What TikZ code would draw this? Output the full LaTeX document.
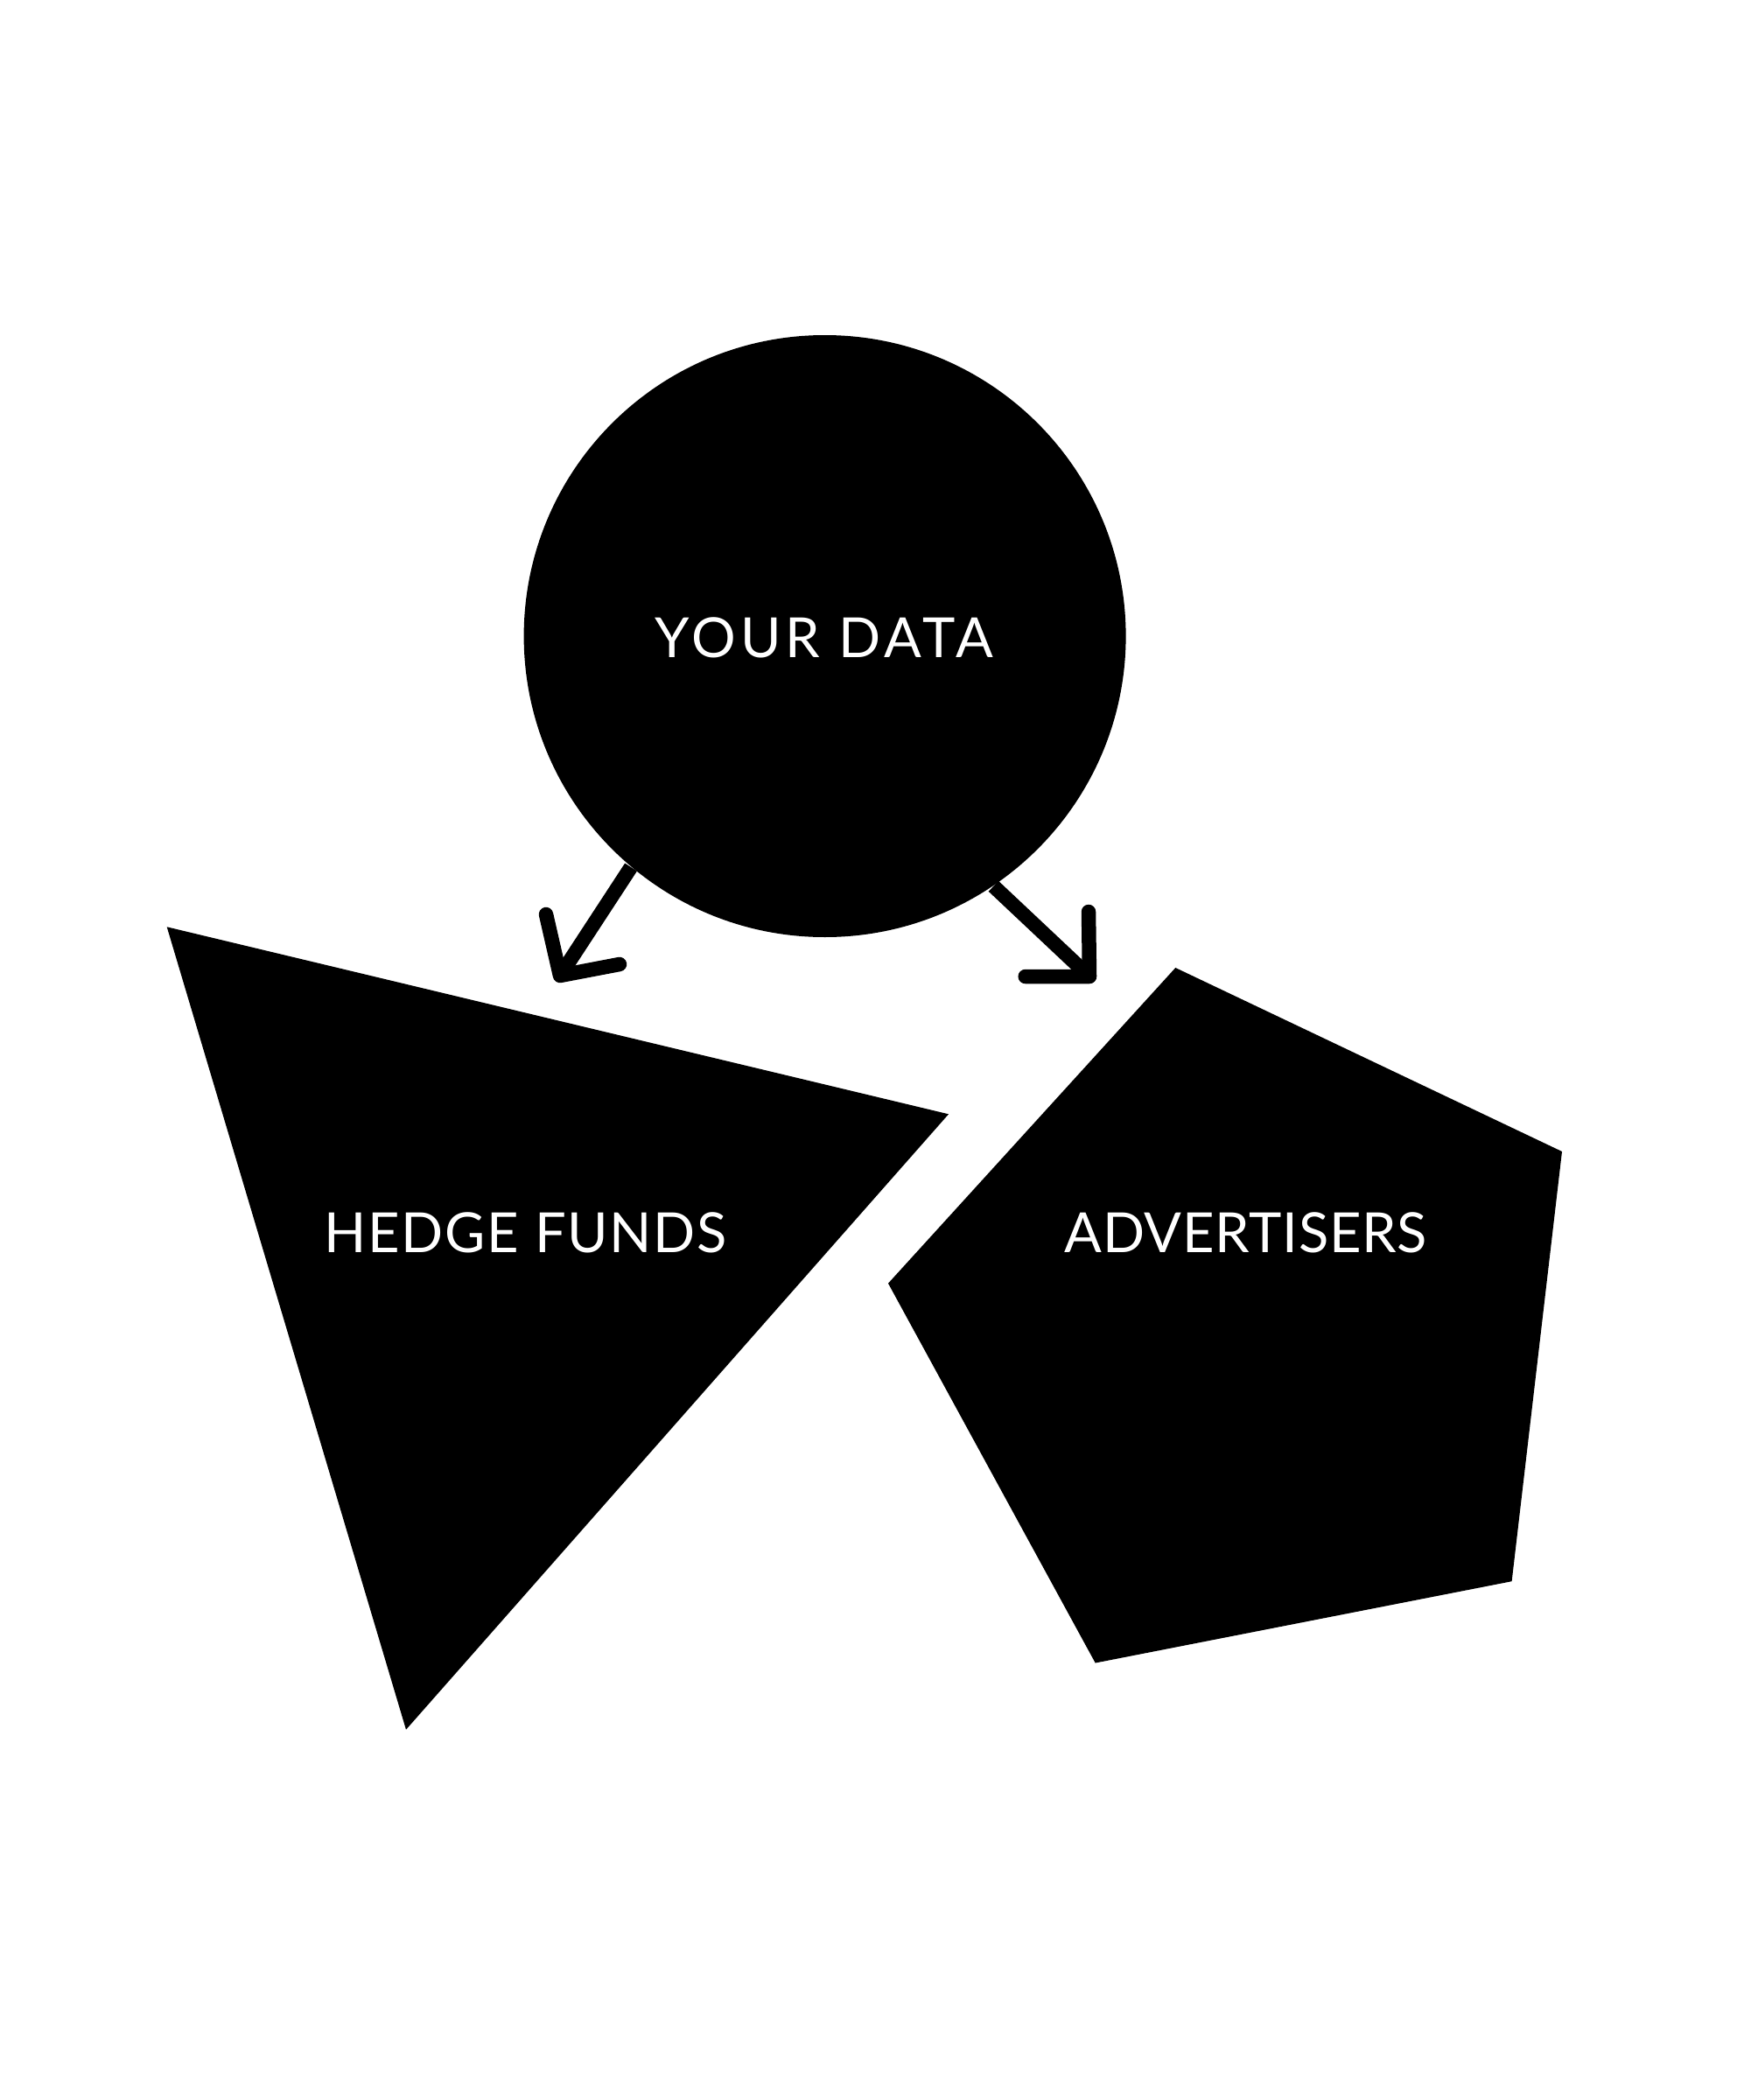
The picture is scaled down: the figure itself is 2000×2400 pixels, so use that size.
\documentclass[tikz,border=0pt]{standalone}
\usepackage{fontspec}
\setmainfont{Lato}
\newfontfamily\labelwide{Lato}[LetterSpace=8]
\newfontfamily\labelmid{Lato}[LetterSpace=2.6]
\newfontfamily\labelnarrow{Lato}[LetterSpace=1.2]
\begin{document}
\begin{tikzpicture}[x=0.1mm,y=-0.1mm,
  shapefill/.style={fill=black},
  label/.style={text=white,font=\fontsize{18}{18}\selectfont,inner sep=0pt},
  flow/.style={line width=1.65mm,line cap=round,line join=round}]
\useasboundingbox (0,0) rectangle (2000,2400);

% source circle
\node[circle,fill=black,minimum size=68.8mm,inner sep=0pt] (data) at (942.6,727) {};
\node[label] (datalabel) at (941.8,728.4) {\labelwide YOUR DATA};

% destination shapes
\fill[shapefill] (190.7,1059.3) -- (1084,1273.3) -- (464,1976.7) -- cycle;
\fill[shapefill] (1343.3,1106) -- (1785,1316) -- (1727.6,1807.2) -- (1251.7,1900.5) -- (1015,1466.7) -- cycle;
\node[label] (hedge) at (600.6,1409) {\labelmid HEDGE FUNDS};
\node[label] (adv) at (1423.8,1409) {\labelnarrow ADVERTISERS};

% arrow ends
\coordinate (tipL) at (640,1115);
\coordinate (armLa) at (624,1045);
\coordinate (armLb) at (708,1102);
\coordinate (tipR) at (1245,1116);
\coordinate (armRa) at (1244,1042);
\coordinate (armRb) at (1171.7,1116);

% connectors
\draw[flow,line cap=butt] (data.230.2) -- (tipL);
\draw[flow] (armLa) -- (tipL) -- (armLb);
\draw[flow,line cap=butt] (data.304.9) -- (tipR);
\draw[flow] (armRa) -- (tipR) -- (armRb);
\end{tikzpicture}
\end{document}
